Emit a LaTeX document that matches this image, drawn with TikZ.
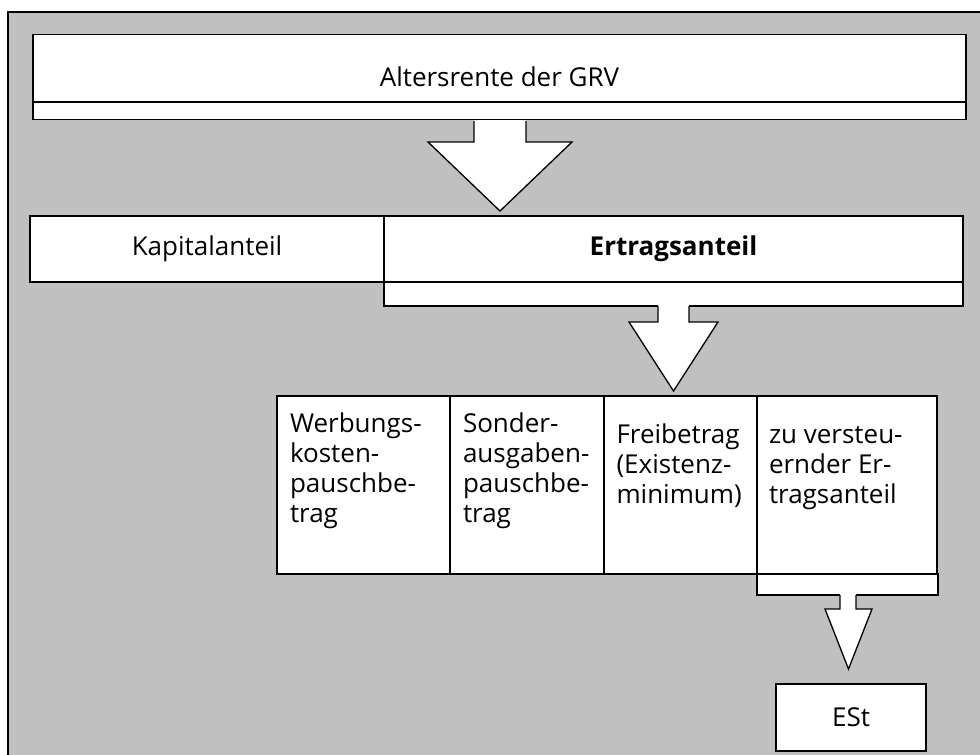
\documentclass[tikz,border=0pt]{standalone}
\usepackage{fontspec}
\setmainfont{Open Sans}
\definecolor{bggray}{HTML}{C0C0C0}
\tikzset{
  box/.style={draw=black, fill=white, line width=1.3pt, inner sep=0pt, outer sep=0pt},
  lbl/.style={font=\fontsize{26}{30}\selectfont, inner sep=0pt, outer sep=0pt},
  ln/.style={draw=black, line width=1.3pt},
  blk/.style={fill=white},
}
\begin{document}
\begin{tikzpicture}[x=1pt,y=-1pt,line join=miter]
\useasboundingbox (0,0) rectangle (980,755);
\clip (0,0) rectangle (980,755);
\fill[white] (0,0) rectangle (980,755);
\filldraw[fill=bggray, draw=black, line width=2pt] (8,12) rectangle (992,790);

% top box
\node[box, lbl, minimum width=933pt, minimum height=85pt] (grv) at (499.5,77) {Altersrente der GRV};
\draw[ln] (grv.west |- 0,102) -- (grv.east |- 0,102);
% arrow 1
\fill[blk] (474,120) -- (474,142) -- (428,142) -- (500,211) -- (572,142) -- (526,142) -- (526,120) -- cycle;
\draw[ln] (474,121) -- (474,142) -- (428,142) -- (500,211) -- (572,142) -- (526,142) -- (526,121);

% row 2
\node[box, minimum width=579pt, minimum height=24pt] (ext2) at (673.5,294) {};
\node[box, lbl, minimum width=354pt, minimum height=66pt] (kap) at (207,249) {Kapitalanteil};
\node[box, lbl, minimum width=579pt, minimum height=66pt, font=\fontsize{26}{30}\selectfont\bfseries] (ert) at (673.5,249) {Ertragsanteil};
% arrow 2
\fill[blk] (658,305) -- (658,322) -- (629,322) -- (673.5,391) -- (718,322) -- (689,322) -- (689,305) -- cycle;
\draw[ln] (658,306) -- (658,322) -- (629,322) -- (673.5,391) -- (718,322) -- (689,322) -- (689,306);

% row 3
\node[box, minimum width=181pt, minimum height=21pt] (ext3) at (847.5,584.5) {};
\node[box, minimum width=173pt, minimum height=178pt] (w1) at (363.5,485) {};
\node[box, minimum width=154pt, minimum height=178pt] (w2) at (527,485) {};
\node[box, minimum width=153pt, minimum height=178pt] (w3) at (680.5,485) {};
\node[box, minimum width=180pt, minimum height=178pt] (w4) at (847,485) {};
\node[lbl, anchor=base west] (t1) at (290,432) {\begin{tabular}[t]{@{}l@{}}Werbungs-\\kosten-\\pauschbe-\\trag\end{tabular}};
\node[lbl, anchor=base west] (t2) at (463,432) {\begin{tabular}[t]{@{}l@{}}Sonder-\\ausgaben-\\pauschbe-\\trag\end{tabular}};
\node[lbl, anchor=base west] (t3) at (616.5,443) {\begin{tabular}[t]{@{}l@{}}Freibetrag\\(Existenz-\\minimum)\end{tabular}};
\node[lbl, anchor=base west] (t4) at (769,443) {\begin{tabular}[t]{@{}l@{}}zu versteu-\\ernder Er-\\tragsanteil\end{tabular}};
% arrow 3
\fill[blk] (840,594) -- (840,609) -- (825,609) -- (848.5,669) -- (872,609) -- (856,609) -- (856,594) -- cycle;
\draw[ln] (840,595) -- (840,609) -- (825,609) -- (848.5,669) -- (872,609) -- (856,609) -- (856,595);

% ESt
\node[box, lbl, minimum width=150pt, minimum height=67pt] (est) at (851,717.5) {ESt};
\end{tikzpicture}
\end{document}
